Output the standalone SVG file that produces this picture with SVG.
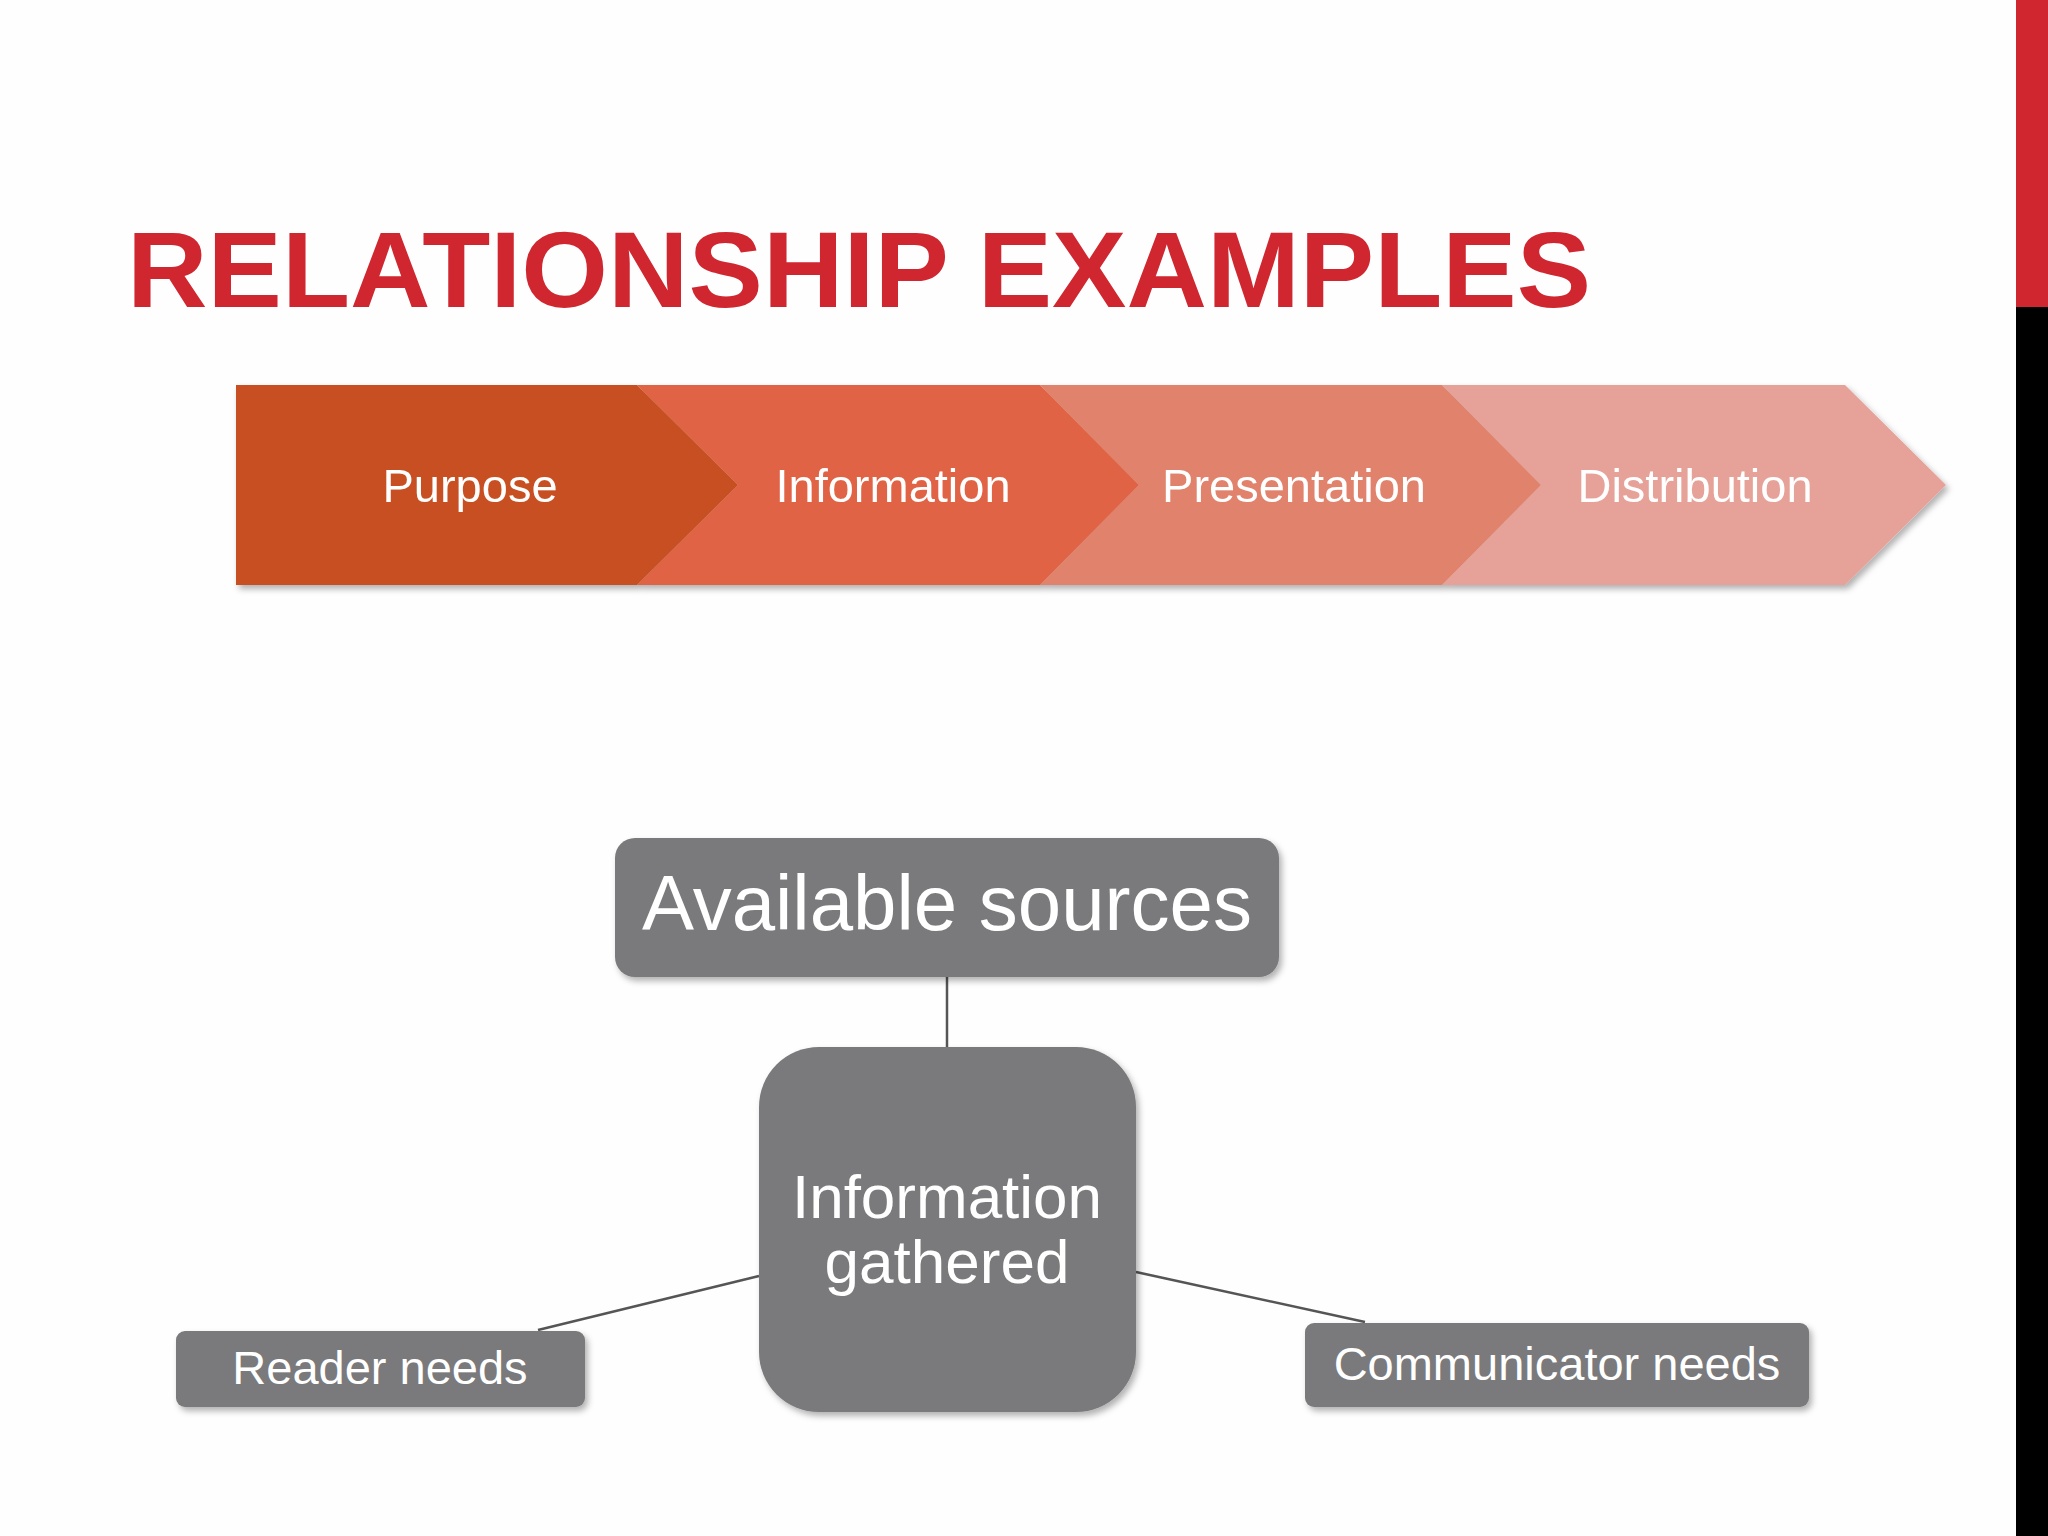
<svg xmlns="http://www.w3.org/2000/svg" width="2048" height="1536" viewBox="0 0 2048 1536">
<defs>
<filter id="sh" x="-10%" y="-10%" width="120%" height="130%"><feDropShadow dx="3" dy="4" stdDeviation="3" flood-color="#000" flood-opacity="0.3"/></filter>
</defs>
<style>
.chev{font-family:"Liberation Sans",Arial,sans-serif;font-size:47px;fill:#fff;text-anchor:middle}
.box{fill:#7a797b;filter:url(#sh)}
.bt{font-family:"Liberation Sans",Arial,sans-serif;fill:#fff;text-anchor:middle}
.con{stroke:#555;stroke-width:2.5;fill:none}
</style>
<rect width="2048" height="1536" fill="#fefefe"/>
<rect x="2016" y="0" width="32" height="307" fill="#d0262f"/>
<rect x="2016" y="307" width="32" height="1229" fill="#000"/>
<text x="127" y="307" font-family="'Liberation Sans',Arial,sans-serif" font-weight="900" font-size="108" fill="#d0262f" textLength="1464" lengthAdjust="spacingAndGlyphs">RELATIONSHIP EXAMPLES</text>
<g filter="url(#sh)">
<g id="distribution"><polygon points="1442,385 1845,385 1946,485 1845,585 1442,585 1541,485" fill="#e6a198"/><text class="chev" x="1695" y="502">Distribution</text></g>
<g id="presentation"><polygon points="1040,385 1442,385 1541,485 1442,585 1040,585 1139,485" fill="#e0826c"/><text class="chev" x="1294" y="502">Presentation</text></g>
<g id="information"><polygon points="637,385 1040,385 1139,485 1040,585 637,585 738,485" fill="#e06444"/><text class="chev" x="893" y="502">Information</text></g>
<g id="purpose"><polygon points="236,385 637,385 738,485 637,585 236,585" fill="#c85020"/><text class="chev" x="470" y="502">Purpose</text></g>
</g>
<g id="connectors">
<line class="con" x1="947" y1="977" x2="947" y2="1047"/>
<line class="con" x1="759" y1="1276" x2="538" y2="1330"/>
<line class="con" x1="1136" y1="1272" x2="1365" y2="1322"/>
</g>
<g id="available-sources"><rect class="box" x="615" y="838" width="664" height="139" rx="20"/><text class="bt" x="947" y="930" font-size="78">Available sources</text></g>
<g id="information-gathered"><rect class="box" x="759" y="1047" width="377" height="365" rx="60"/><text class="bt" x="947" y="1218" font-size="62">Information</text><text class="bt" x="947" y="1283" font-size="62">gathered</text></g>
<g id="reader-needs"><rect class="box" x="176" y="1331" width="409" height="76" rx="9"/><text class="bt" x="380" y="1384" font-size="47">Reader needs</text></g>
<g id="communicator-needs"><rect class="box" x="1305" y="1323" width="504" height="84" rx="9"/><text class="bt" x="1557" y="1380" font-size="47">Communicator needs</text></g>
</svg>
